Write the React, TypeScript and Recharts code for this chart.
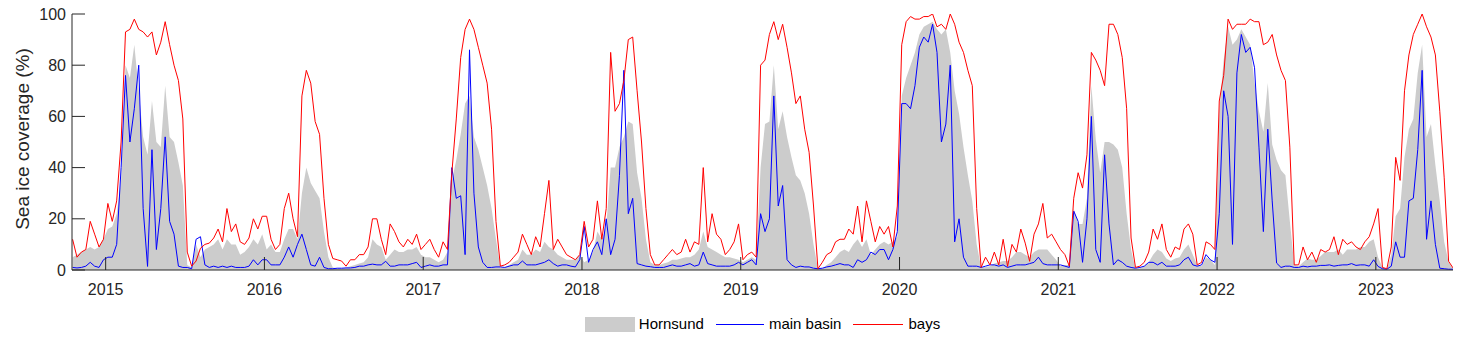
import { ComposedChart, Area, Line, XAxis, YAxis, Legend } from 'recharts'

const FONT = '"Liberation Sans", Arial, Helvetica, sans-serif'
const INK = '#262626'
const GRAY = '#cccccc'
const BLUE = '#0000ff'
const RED = '#ff0000'

// one value per dekad (~10 days); the first one is mid-October 2014
const FIRST_YEAR = 2014
const FIRST_DEKAD = 28
const DEKADS_PER_YEAR = 36

const X_DOMAIN = [2014.788, 2023.486]
const YEAR_TICKS = [2015, 2016, 2017, 2018, 2019, 2020, 2021, 2022, 2023]
const PERCENT_TICKS = [0, 20, 40, 60, 80, 100]

// Hornsund, whole fjord (%)
const hornsund = [
  // 2014
  5, 6, 7, 8, 9, 8, 9, 12,
  // 2015
  16, 17, 22, 35, 80, 75, 88, 70, 52, 45, 66, 50,
  48, 72, 52, 50, 42, 33, 2, 1, 10, 5, 8, 9,
  10, 12, 8, 12, 10, 10, 6, 7, 9, 12, 10, 14,
  // 2016
  8, 10, 7, 7, 12, 16, 16, 12, 30, 40, 34, 31,
  28, 15, 5, 1, 0.7, 0.7, 1, 1.5, 2, 2.5, 3, 5,
  12, 10, 9, 4, 6, 8, 7, 7, 8, 8, 9, 6,
  // 2017
  5, 5, 4, 3, 4, 7, 35, 43, 53, 65, 68, 52,
  47, 40, 33, 24, 12, 1, 1, 2, 3, 4, 8, 6,
  6, 8, 7, 11, 9, 8, 6, 5, 4, 4, 4, 6,
  // 2018
  3, 4, 7, 15, 12, 17, 40, 40, 48, 52, 58, 57,
  38, 28, 12, 3, 2, 2, 2.5, 3, 4, 4, 4.5, 5,
  5, 6, 8, 15, 9, 8, 7, 6, 5, 5, 4.5, 4,
  // 2019
  3, 4, 5, 4, 40, 57, 58, 80, 55, 62, 52, 44,
  37, 35, 30, 22, 10, 0.5, 0.5, 2, 3, 5, 7, 8,
  7, 10, 12, 9, 12, 6, 8, 10, 11, 10, 11, 13,
  // 2020
  68, 75, 80, 85, 92, 95, 96, 97, 94, 92, 94, 85,
  70, 61, 48, 37, 27, 10, 1, 1.2, 1.5, 2.5, 3, 3.5,
  3.5, 5, 7, 7, 6, 5, 7, 8, 8, 8, 6, 4,
  // 2021
  1.5, 2, 2, 24, 18, 18, 28, 72, 51, 38, 50, 50,
  49, 47, 40, 22, 8, 0.5, 0.7, 1.5, 3, 6, 8, 7,
  4.5, 3.5, 4.5, 5, 8, 10, 6, 2, 1.5, 5, 4, 2,
  // 2022
  62, 82, 95, 88, 90, 94, 91, 88, 73, 62, 54, 73,
  49, 43, 39, 37, 19, 2, 1.5, 3, 4.5, 4, 4, 5.5,
  7, 7, 7, 8, 6, 8, 8, 8, 9, 9, 11, 12,
  // 2023
  5, 1, 0.3, 6, 21, 24, 44, 55, 59, 77, 88, 52,
  57, 41, 27, 11, 3, 0.5,
]

// main basin (%)
const mainBasin = [
  // 2014
  1, 0.8, 1, 1.5, 3, 1.5, 1, 4,
  // 2015
  5, 5, 10, 40, 76, 50, 63, 80, 24, 1.4, 47, 8,
  24, 52, 19, 14, 1.5, 1, 1, 0.5, 12, 13, 2, 1,
  1.5, 1, 1.5, 1, 1.5, 1, 1, 1, 1.5, 4, 2, 4,
  // 2016
  4, 2, 2, 2, 5, 9, 5, 10, 14, 8, 2, 1.5,
  5, 1, 0.5, 0.5, 0.7, 0.7, 0.8, 0.8, 1, 1.5, 1.5, 2,
  2.3, 2, 2, 3.4, 1.5, 1.5, 2, 2, 2, 2.5, 3, 1,
  // 2017
  1.5, 2, 1.5, 1.5, 2, 2, 40, 28, 29, 6, 86, 30,
  9, 3, 1, 1, 1.2, 1.2, 1, 1.5, 2, 2, 3.5, 2,
  2, 2, 2.5, 3, 4, 2.5, 1.5, 2, 2, 1.5, 1.2, 4,
  // 2018
  17, 3, 8, 11, 6, 20, 6, 12, 37, 78, 22, 28,
  2.5, 2, 1.5, 1.3, 1, 1, 1, 1.5, 2, 1.5, 1.5, 2,
  2.5, 1.5, 2, 7, 2.5, 2, 1.5, 1.5, 1.5, 1.5, 2, 3,
  // 2019
  2, 3, 4, 2, 22, 15, 20, 68, 25, 33, 4, 2,
  1, 1.5, 1.2, 1.2, 0.7, 0.5, 0.7, 1.2, 1.5, 2, 2.5, 2,
  2, 1, 4, 3, 4, 7, 6, 8, 8, 4, 8, 15,
  // 2020
  65, 65, 63, 72, 87, 91, 89, 96, 85, 50, 57, 80,
  11, 20, 5, 1.5, 1.5, 1.5, 1, 1.5, 2, 2, 1.5, 2,
  1, 1.5, 2, 2, 2, 2.5, 3, 5, 2.5, 2, 2, 2,
  // 2021
  2, 1.5, 1, 23, 19, 3, 20, 60, 8, 3, 45, 18,
  2, 4, 3, 1.5, 1, 0.7, 1, 1.5, 3, 3, 2, 3,
  1.5, 1.5, 1.5, 2, 4, 5, 2, 1.5, 2, 6, 4, 3,
  // 2022
  22, 70, 60, 10, 77, 92, 85, 87, 79, 48, 15, 55,
  27, 2.7, 1, 1.5, 1.5, 1, 1, 1.5, 1.2, 1.5, 1.5, 1.8,
  1.8, 2, 1.5, 1.8, 2, 2, 2.5, 1.8, 2, 2, 1.5, 4,
  // 2023
  1.4, 0.5, 0.3, 1.5, 11, 5, 5, 27, 28, 47, 78, 12,
  27, 10, 0.7, 0.5, 0.3, 0.3,
]

// bays (%)
const bays = [
  // 2014
  12, 5, 7, 8, 19, 14, 9, 12,
  // 2015
  26, 19, 27, 50, 93, 94, 98, 94, 93, 91, 93, 84,
  89, 97, 88, 80, 74, 59, 7, 1.5, 3.5, 8.5, 10, 10.5,
  12.5, 16, 11, 24, 15, 18, 11, 10, 12.5, 20, 16, 21,
  // 2016
  21, 12, 8, 10, 24, 30, 20, 13, 68, 78, 73, 58,
  53, 28, 10, 4.5, 4, 3.5, 1.5, 4, 4, 6, 6, 9,
  20, 20, 12, 6, 18, 15, 11, 9, 12, 10, 14, 8,
  // 2017
  10, 12, 8, 5, 11, 8, 38, 59, 83, 94, 98, 94,
  87, 80, 73, 55, 19, 1.5, 2, 3, 5, 7, 14, 10,
  6, 13, 9, 22, 35, 8, 12, 9, 6, 5, 4, 6,
  // 2018
  19, 9, 12, 27, 12, 24, 85, 62, 65, 74, 90, 91,
  70, 50, 24, 6, 2, 2, 4, 6, 8, 6, 7, 12,
  7, 11, 10, 40, 11, 22, 14, 12, 6, 8, 11, 18,
  // 2019
  4, 6, 7, 5, 80, 82, 92, 97, 90, 96, 87, 77,
  65, 68, 55, 46, 25, 0.5, 3, 6, 7, 11, 12, 12,
  16, 14, 25, 11, 27, 19, 11, 17, 14, 17, 9, 25,
  // 2020
  88, 97, 99, 98, 98, 99, 99, 100, 95, 96, 94, 100,
  96, 89, 85, 78, 72, 24, 1, 5, 2, 7, 2, 12,
  1.4, 10, 7, 16, 10.5, 3.4, 14, 18, 26, 12.5, 14, 11,
  // 2021
  8, 6, 1.5, 28, 38, 32, 45, 85, 82, 78, 72, 96,
  96, 92, 83, 63, 12.5, 1, 1.5, 3, 7, 16, 12, 18,
  8, 5, 9, 8, 16, 18, 14, 2, 3, 11, 10, 8,
  // 2022
  66, 76, 98, 94, 96, 96, 96, 98, 97, 97, 88, 89,
  92, 84, 78, 74, 48, 2, 2, 9, 4, 7, 3, 8,
  7, 8, 13, 6, 12, 10, 11, 9, 8, 11, 13, 18,
  // 2023
  24, 1, 0.5, 9, 44, 35, 70, 84, 92, 96, 100, 95,
  91, 84, 62, 36, 3.4, 0.8,
]

const data = hornsund.map((value, k) => ({
  t: FIRST_YEAR + (FIRST_DEKAD + k + 0.5) / DEKADS_PER_YEAR,
  hornsund: value,
  mainBasin: mainBasin[k],
  bays: bays[k],
}))

const tickText = { fill: INK, fontSize: 16, fontFamily: FONT }

// rotated y-axis title, placed from the axis viewBox
function YTitle(props: any) {
  const vb = props.viewBox || { x: 0, y: 0, width: 0, height: 0 }
  const x = vb.x + 22
  const y = vb.y + vb.height / 2 - 3
  return (
    <text
      x={x}
      y={y}
      transform={`rotate(-90 ${x} ${y})`}
      textAnchor="middle"
      dominantBaseline="central"
      fill={INK}
      fontSize={19}
      fontFamily={FONT}
    >
      Sea ice coverage (%)
    </text>
  )
}

function LegendBox() {
  const text = { fontFamily: FONT, fontSize: 15, color: '#000', lineHeight: '16px', whiteSpace: 'nowrap' as const }
  return (
    <div
      style={{
        display: 'flex',
        justifyContent: 'center',
        alignItems: 'center',
        marginLeft: 72,
        width: 1381,
        height: 16,
      }}
    >
      <span style={{ width: 50, height: 15, background: GRAY }} />
      <span style={{ ...text, marginLeft: 4 }}>Hornsund</span>
      <span style={{ width: 48, height: 1, background: BLUE, marginLeft: 12 }} />
      <span style={{ ...text, marginLeft: 5 }}>main basin</span>
      <span style={{ width: 50, height: 1, background: RED, marginLeft: 12 }} />
      <span style={{ ...text, marginLeft: 5 }}>bays</span>
    </div>
  )
}

export default function App() {
  return (
    <div style={{ position: 'absolute', left: 0, top: 0, width: 1467, height: 343, background: '#fff' }}>
      <ComposedChart
        width={1467}
        height={343}
        data={data}
        margin={{ top: 14, right: 14, bottom: 43, left: 0 }}
      >
        <XAxis
          xAxisId="bottom"
          type="number"
          dataKey="t"
          domain={X_DOMAIN}
          ticks={YEAR_TICKS}
          interval={0}
          allowDataOverflow
          height={30}
          tickSize={-13}
          tickMargin={27}
          stroke={INK}
          tick={tickText}
        />
        <XAxis
          xAxisId="top"
          orientation="top"
          type="number"
          dataKey="t"
          domain={X_DOMAIN}
          ticks={YEAR_TICKS}
          interval={0}
          allowDataOverflow
          height={0}
          tickSize={-13}
          stroke={INK}
          tick={false}
        />
        <YAxis
          yAxisId="left"
          type="number"
          domain={[0, 100]}
          ticks={PERCENT_TICKS}
          interval={0}
          allowDataOverflow
          width={72}
          tickSize={-13}
          tickMargin={19}
          stroke={INK}
          tick={tickText}
          label={<YTitle />}
        />
        <YAxis
          yAxisId="right"
          orientation="right"
          type="number"
          domain={[0, 100]}
          ticks={PERCENT_TICKS}
          interval={0}
          allowDataOverflow
          width={0}
          tickSize={-13}
          stroke={INK}
          tick={false}
        />
        <Legend
          layout="horizontal"
          align="center"
          verticalAlign="middle"
          wrapperStyle={{ top: 316, left: 0, width: 1467, height: 16 }}
          content={<LegendBox />}
        />
        <Area
          xAxisId="bottom"
          yAxisId="left"
          type="linear"
          dataKey="hornsund"
          name="Hornsund"
          fill={GRAY}
          fillOpacity={1}
          stroke="none"
          dot={false}
          activeDot={false}
          isAnimationActive={false}
        />
        <Line
          xAxisId="bottom"
          yAxisId="left"
          type="linear"
          dataKey="mainBasin"
          name="main basin"
          stroke={BLUE}
          strokeWidth={1}
          dot={false}
          activeDot={false}
          isAnimationActive={false}
        />
        <Line
          xAxisId="bottom"
          yAxisId="left"
          type="linear"
          dataKey="bays"
          name="bays"
          stroke={RED}
          strokeWidth={1}
          dot={false}
          activeDot={false}
          isAnimationActive={false}
        />
      </ComposedChart>
    </div>
  )
}
